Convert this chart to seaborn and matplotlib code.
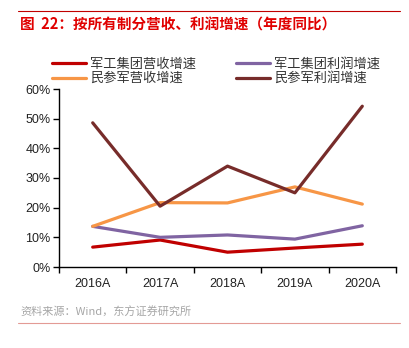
import matplotlib
matplotlib.use("Agg")
import matplotlib.pyplot as plt
import seaborn as sns
import pandas as pd
from matplotlib.lines import Line2D

years = ["2016A", "2017A", "2018A", "2019A", "2020A"]
series_names = ["军工集团营收增速", "军工集团利润增速", "民参军营收增速", "民参军利润增速"]
jg_rev = [6.7, 9.1, 5.0, 6.4, 7.7]
jg_profit = [13.7, 10.0, 10.8, 9.4, 13.9]
mc_rev = [13.7, 21.7, 21.6, 27.0, 21.2]
mc_profit = [48.6, 20.5, 34.0, 25.0, 54.2]
colors = ["#C00000", "#8064A2", "#F79646", "#772C2A"]
y_ticks = [0, 10, 20, 30, 40, 50, 60]

sns.set_theme(style="white")
plt.rcParams["font.family"] = ["Liberation Sans", "Noto Sans CJK SC", "DejaVu Sans"]

rows = []
for name, vals in zip(series_names, [jg_rev, jg_profit, mc_rev, mc_profit]):
    for i, (y, v) in enumerate(zip(years, vals)):
        rows.append({"x": i, "year": y, "series": name, "value": v})
df = pd.DataFrame(rows)

fig = plt.figure(figsize=(4.10, 3.48), dpi=100)
ax = fig.add_axes([59/410, 1-267/348, (396-59)/410, (267-89)/348])

sns.lineplot(data=df, x="x", y="value", hue="series", hue_order=series_names,
             palette=colors, linewidth=2.3, ax=ax, legend=False, sort=False)

ax.set_xlim(-0.5, 4.5)
ax.set_ylim(0, 60)
ax.set_yticks(y_ticks)
ax.set_yticklabels([f"{t}%" for t in y_ticks], fontsize=9, color="#222222")
ax.set_xticks(range(len(years)))
ax.set_xticklabels(years, fontsize=9, color="#222222")
ax.set_xticks([i - 0.5 for i in range(len(years) + 1)], minor=True)
ax.tick_params(axis="x", which="major", length=0, pad=8)
ax.tick_params(axis="x", which="minor", length=4, width=1, color="black", direction="out", bottom=True)
ax.tick_params(axis="y", length=4, width=1, color="black", direction="out", left=True, pad=2)
ax.set_xlabel("")
ax.set_ylabel("")
for s in ["top", "right"]:
    ax.spines[s].set_visible(False)
for s in ["left", "bottom"]:
    ax.spines[s].set_color("black")
    ax.spines[s].set_linewidth(1.0)

order = [0, 2, 1, 3]
handles = [Line2D([0], [0], color=colors[i], lw=2.3) for i in order]
labels = [series_names[i] for i in order]
leg = fig.legend(handles, labels, loc="upper left", ncol=2,
                 bbox_to_anchor=(40/410, 1-46/348), frameon=False,
                 handlelength=2.6, columnspacing=3.0,
                 labelspacing=0.1, handletextpad=0.3,
                 prop={"family": ["Noto Sans CJK SC", "DejaVu Sans"], "size": 9.5})
for t in leg.get_texts():
    t.set_color("#333333")

fig.add_artist(Line2D([18/410, 400/410], [1-11/348, 1-11/348], color="#C00000", lw=0.8))
fig.text(20/410, 1-25/348, "图  22：按所有制分营收、利润增速（年度同比）", color="#E00000",
         fontsize=10.5, fontweight="bold", va="center", ha="left",
         family=["Noto Sans CJK SC", "DejaVu Sans"])
fig.text(20/410, 1-312/348, "资料来源：Wind，东方证券研究所", color="#A6A6A6",
         fontsize=8, va="center", ha="left", family=["Noto Sans CJK SC", "DejaVu Sans"])
fig.add_artist(Line2D([18/410, 400/410], [1-323/348, 1-323/348], color="#E39B95", lw=0.8))

fig.savefig("out.png", dpi=100)
